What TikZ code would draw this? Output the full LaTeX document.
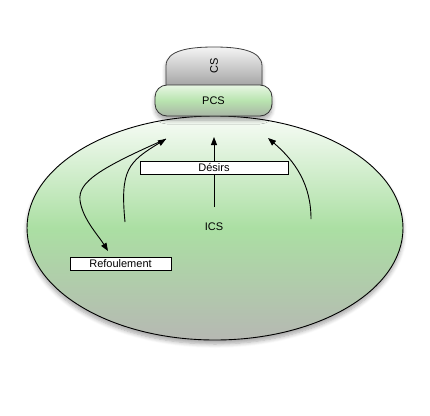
\documentclass[tikz,border=0pt]{standalone}
\usepackage{fontspec}
\setmainfont{Liberation Sans}
\usetikzlibrary{arrows.meta,shadows.blur,shapes.geometric}
\definecolor{ellTop}{HTML}{F8FCF7}
\definecolor{ellMid}{HTML}{ABDFA3}
\definecolor{ellBot}{HTML}{B6B8B3}
\definecolor{pcsTop}{HTML}{E8F6E4}
\definecolor{pcsMid}{HTML}{B8E4AF}
\definecolor{pcsBot}{HTML}{A9B5A6}
\definecolor{csTop}{HTML}{F4F4F4}
\definecolor{csBot}{HTML}{A4A4A4}
\tikzset{
  lbl/.style={font=\fontsize{11}{13}\selectfont, inner sep=0pt},
  labelbox/.style={draw=black, fill=white, line width=0.8pt, inner sep=0pt,
     font=\fontsize{11}{13}\selectfont},
  flow/.style={draw=black, line width=0.9pt, -{Triangle[length=8pt,width=6pt]}},
  softshadow/.style={blur shadow={shadow blur steps=6, shadow xshift=0pt,
     shadow yshift=-4pt, shadow opacity=35, shadow blur radius=4pt}}
}
\begin{document}
\begin{tikzpicture}[x=1pt,y=-1pt]
\useasboundingbox (0,0) rectangle (430,415);
% unconscious ellipse
\node[ellipse, draw=black, line width=0.9pt, minimum width=376pt, minimum height=224pt,
      top color=ellTop, bottom color=ellBot, middle color=ellMid, softshadow,
      inner sep=0pt] (ell) at (215,228) {};
% CS dome
\shade[top color=csTop, bottom color=csBot, draw=black!75, line width=0.8pt, softshadow]
  (166,86) -- (166,66) .. controls (166,50) and (190,47) .. (214,47)
  .. controls (238,47) and (262,50) .. (262,66) -- (262,86) -- cycle;
\node[lbl, rotate=90] (CS) at (214,66) {CS};
% PCS
\node[draw=black!80, line width=0.8pt, rounded corners=12pt, minimum width=117pt,
      minimum height=31pt, top color=pcsTop, bottom color=pcsBot, middle color=pcsMid,
      font=\fontsize{11}{13}\selectfont, inner sep=0pt, softshadow] (PCS) at (213.5,100.5) {PCS};
% labels
\node[lbl] (ICS) at (214,227) {ICS};
\coordinate (tipL) at (166,139);
\coordinate (tipM) at (214,137);
\coordinate (tipR) at (268,138);
\coordinate (sL) at (125,222);
\coordinate (sM) at (214,207);
\coordinate (sR) at (311,219);
\coordinate (eRef) at (108,251);
% arrows
\draw[flow] (sM) -- (tipM);
\draw[flow] (sR) .. controls (311,185) and (296,162) .. (tipR);
\draw[flow] (sL) .. controls (120,170) and (128,162) .. (tipL);
\draw[flow] (tipL) .. controls (100,168) and (78,182) .. (80,200)
   .. controls (82,218) and (98,235) .. (eRef);
% boxes
\node[labelbox, minimum width=148pt, minimum height=13pt] (Des) at (214,167.5) {Désirs};
\node[labelbox, minimum width=101pt, minimum height=13pt] (Ref) at (120.5,263.5) {Refoulement};
\end{tikzpicture}
\end{document}
